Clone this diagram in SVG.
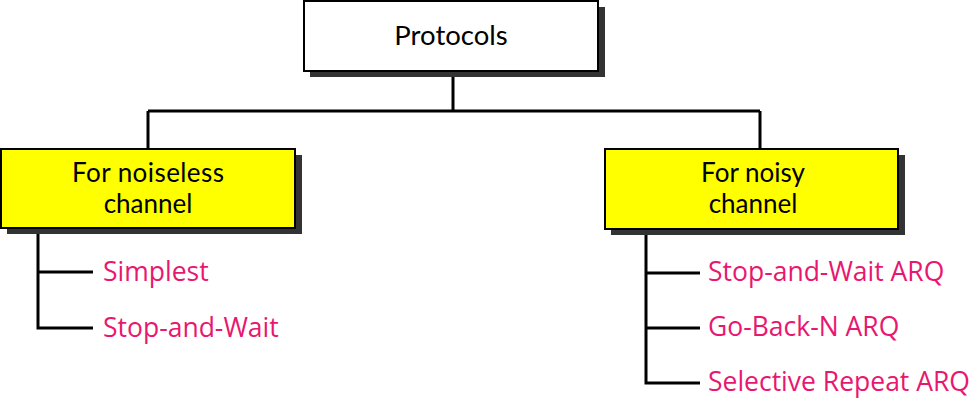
<svg xmlns="http://www.w3.org/2000/svg" width="970" height="400" viewBox="0 0 970 400">
<style>
.box{stroke:#000;stroke-width:2}
.shadow{fill:#333}
.t{font-family:Lato,"Open Sans","Liberation Sans",sans-serif;font-size:26px;fill:#000;text-anchor:middle}
.p{font-family:"Open Sans","Liberation Sans",sans-serif;font-size:26.5px;fill:#E8176F}
.c{stroke:#000;stroke-width:3;fill:none}
</style>
<rect width="970" height="400" fill="#fff"/>
<g id="connectors">
<path class="c" d="M453 71V111M148 111H760M148 111V149M760 111V149"/>
<path class="c" d="M38 228V328H93M38 272H93"/>
<path class="c" d="M646 229V383H700M646 273H700M646 328H700"/>
</g>
<g id="protocols">
<rect class="shadow" x="310" y="7" width="295" height="70"/>
<rect class="box" x="304" y="1" width="294" height="70" fill="#fff"/>
<text class="t" x="451" y="45" style="font-size:27.5px">Protocols</text>
</g>
<g id="noiseless">
<rect class="shadow" x="7" y="155" width="295" height="79"/>
<rect class="box" x="1" y="149" width="294" height="79" fill="#ffff00"/>
<text class="t" x="148" y="182" textLength="152">For noiseless</text>
<text class="t" x="148" y="213">channel</text>
</g>
<g id="noisy">
<rect class="shadow" x="611" y="155" width="294" height="80"/>
<rect class="box" x="605" y="149" width="293" height="80" fill="#ffff00"/>
<text class="t" x="753" y="182">For noisy</text>
<text class="t" x="753" y="213">channel</text>
</g>
<g id="simplest"><text class="p" x="103" y="281">Simplest</text></g>
<g id="stopwait"><text class="p" x="103" y="337">Stop-and-Wait</text></g>
<g id="swarq"><text class="p" x="708" y="281">Stop-and-Wait ARQ</text></g>
<g id="gbn"><text class="p" x="708" y="336">Go-Back-N ARQ</text></g>
<g id="sr"><text class="p" x="708" y="391">Selective Repeat ARQ</text></g>
</svg>
